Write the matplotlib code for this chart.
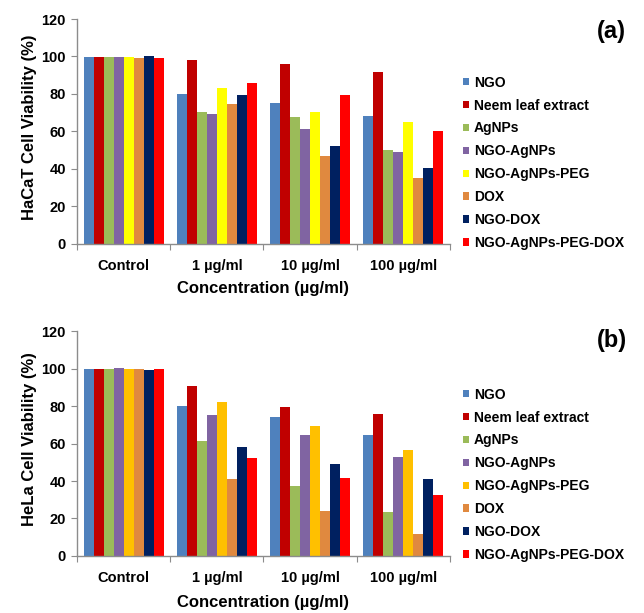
# Cell viability of HaCaT (a) and HeLa (b) cells, grouped bars per concentration
import numpy as np
import matplotlib.pyplot as plt

plt.rcParams['font.family'] = ['Liberation Sans', 'DejaVu Sans']
plt.rcParams['font.weight'] = 'bold'

concentrations = ["Control", "1 µg/ml", "10 µg/ml", "100 µg/ml"]
samples = ["NGO", "Neem leaf extract", "AgNPs", "NGO-AgNPs", "NGO-AgNPs-PEG",
           "DOX", "NGO-DOX", "NGO-AgNPs-PEG-DOX"]

# rows = samples, columns = concentrations
hacat = [
    [99.8, 79.8, 75.0, 68.4],
    [99.8, 98.0, 96.2, 91.8],
    [99.8, 70.2, 67.5, 50.2],
    [99.8, 69.1, 61.2, 49.3],
    [99.5, 83.4, 70.4, 64.8],
    [99.0, 74.8, 47.0, 35.4],
    [100.0, 79.3, 52.1, 40.7],
    [99.0, 85.7, 79.5, 60.2],
]
hela = [
    [99.8, 80.0, 73.9, 64.8],
    [99.8, 90.6, 79.6, 75.8],
    [99.7, 61.2, 37.2, 23.7],
    [100.2, 75.3, 64.3, 53.0],
    [99.7, 81.9, 69.1, 56.8],
    [99.7, 41.3, 23.9, 11.7],
    [99.1, 58.2, 49.1, 40.9],
    [99.7, 52.5, 41.5, 32.6],
]

colors_a = ["#4F81BD", "#C00000", "#9BBB59", "#8064A2", "#FFFF00",
            "#E0893F", "#002060", "#FF0000"]
colors_b = colors_a[:4] + ["#FFC000"] + colors_a[5:]

fig = plt.figure(figsize=(6.44, 6.13), dpi=100)
ax_a = fig.add_axes([0.1196, 0.602, 0.579, 0.367])
ax_b = fig.add_axes([0.1196, 0.093, 0.579, 0.367])

axis_grey = "#8C8C8C"
n = len(samples)
width = 0.858 / n
x = np.arange(len(concentrations))

panels = [(ax_a, hacat, colors_a, "HaCaT Cell Viability (%)", "(a)", 0.968, -0.163),
          (ax_b, hela, colors_b, "HeLa Cell Viability (%)", "(b)", 0.463, -0.172)]

for ax, values, colors, ylabel, tag, tag_y, xlab_y in panels:
    for i, (name, vals, c) in enumerate(zip(samples, values, colors)):
        ax.bar(x - 0.429 + width * (i + 0.5), vals, width, color=c, label=name,
               linewidth=0)
    ax.set_xlim(-0.5, len(concentrations) - 0.5)
    ax.set_ylim(0, 120)
    ax.set_yticks(range(0, 121, 20))
    ax.set_xticks(np.arange(-0.5, len(concentrations)), labels=[])
    ax.set_xticks(x, labels=concentrations, minor=True)
    ax.tick_params(axis="x", which="major", length=4, color=axis_grey, direction="out")
    ax.tick_params(axis="x", which="minor", length=0, pad=11, labelsize=10.5)
    ax.tick_params(axis="y", length=4, color=axis_grey, labelsize=10.5, pad=4)
    for s in ["top", "right"]:
        ax.spines[s].set_visible(False)
    for s in ["left", "bottom"]:
        ax.spines[s].set_color(axis_grey)
        ax.spines[s].set_linewidth(1.0)
    ax.set_ylabel(ylabel, fontsize=12, fontweight="bold")
    ax.yaxis.set_label_coords(-0.108, 0.52)
    ax.set_xlabel("Concentration (µg/ml)", fontsize=12, fontweight="bold")
    ax.xaxis.set_label_coords(0.5, xlab_y)
    ax.legend(loc="upper left", bbox_to_anchor=(1.02, 0.773), frameon=False,
              fontsize=10, handlelength=0.45, handleheight=0.45,
              handletextpad=0.35, labelspacing=0.64, borderaxespad=0)
    fig.text(0.95, tag_y, tag, fontsize=17, fontweight="bold",
             ha="center", va="top")

fig.savefig("out.png")
